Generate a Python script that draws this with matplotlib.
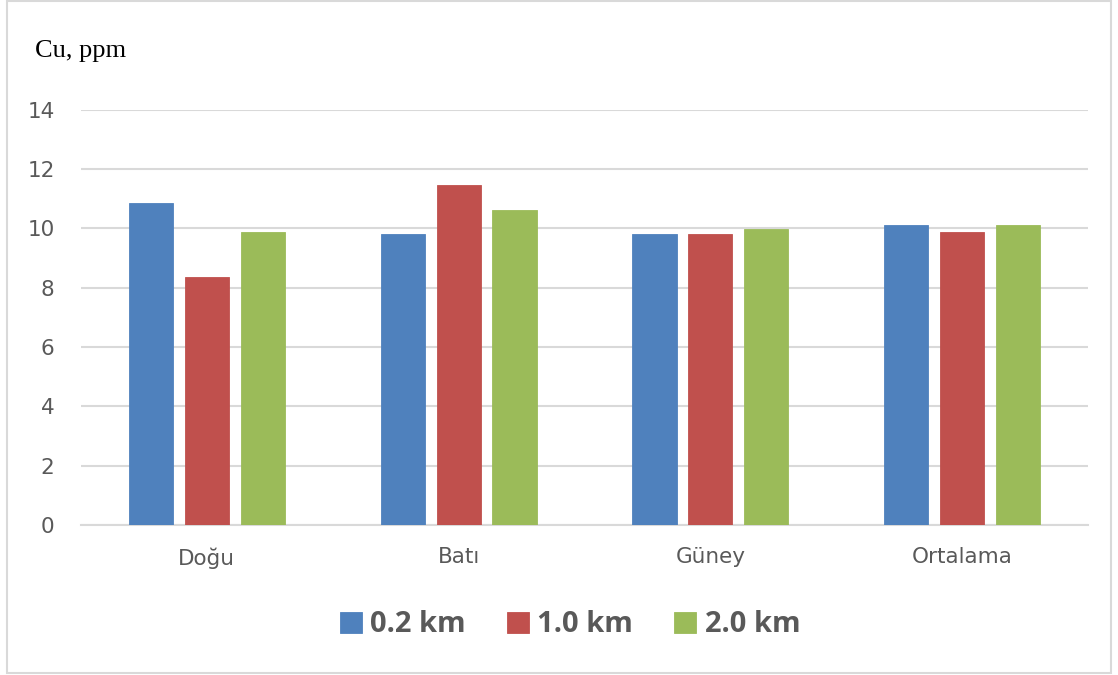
import matplotlib
matplotlib.use("Agg")
import matplotlib.pyplot as plt
import numpy as np
from matplotlib.patches import Rectangle

categories = ["Doğu", "Batı", "Güney", "Ortalama"]
series_names = ["0.2 km", "1.0 km", "2.0 km"]
vals_02 = [10.85, 9.80, 9.81, 10.10]
vals_10 = [8.36, 11.45, 9.81, 9.88]
vals_20 = [9.88, 10.62, 9.96, 10.10]
colors = ["#4F81BD", "#C0504D", "#9BBB59"]
yticks = [0, 2, 4, 6, 8, 10, 12, 14]

W, H = 1118, 675
fig = plt.figure(figsize=(W / 100, H / 100), dpi=100)
ax = fig.add_axes([81 / W, 1 - 525 / H, (1088 - 81) / W, (525 - 109.5) / H])

x = np.arange(len(categories))
bw = 0.175
step = 0.222
for i, (vals, col, name) in enumerate(zip([vals_02, vals_10, vals_20], colors, series_names)):
    ax.bar(x + (i - 1) * step, vals, width=bw, color=col, label=name, zorder=3,
           edgecolor=col, linewidth=0.6)

ax.set_xlim(-0.5, len(categories) - 0.5)
ax.set_ylim(0, 14)
ax.set_yticks(yticks)
ax.set_yticklabels([str(t) for t in yticks])
ax.set_xticks(x)
ax.set_xticklabels(categories)
ax.grid(axis="y", color="#D9D9D9", linewidth=1.5, zorder=0)
ax.set_axisbelow(True)
for s in ["top", "right", "left"]:
    ax.spines[s].set_visible(False)
ax.spines["bottom"].set_color("#D9D9D9")
ax.spines["bottom"].set_linewidth(1.5)
ax.tick_params(axis="both", length=0, labelsize=15.5, labelcolor="#595959")
ax.tick_params(axis="y", pad=19)
ax.tick_params(axis="x", pad=16)
for lab in ax.get_xticklabels() + ax.get_yticklabels():
    lab.set_fontfamily("DejaVu Sans")

fig.text(35 / W, 1 - 51 / H, "Cu, ppm", fontsize=19, family="Liberation Serif",
         color="black", ha="left", va="center")

leg = fig.legend(loc="center", bbox_to_anchor=(570 / W, 1 - 625 / H), ncol=3, frameon=False,
                 prop={"family": "Open Sans", "weight": "bold", "size": 21},
                 handlelength=0.75, handleheight=0.75, handletextpad=0.3, columnspacing=1.4)
for t in leg.get_texts():
    t.set_color("#595959")

fig.patches.append(Rectangle((7 / W, 1 - 673 / H), (1111 - 7) / W, (673 - 1) / H,
                             transform=fig.transFigure, fill=False, edgecolor="#D9D9D9",
                             linewidth=1.5))

fig.savefig("out.png", dpi=100)
